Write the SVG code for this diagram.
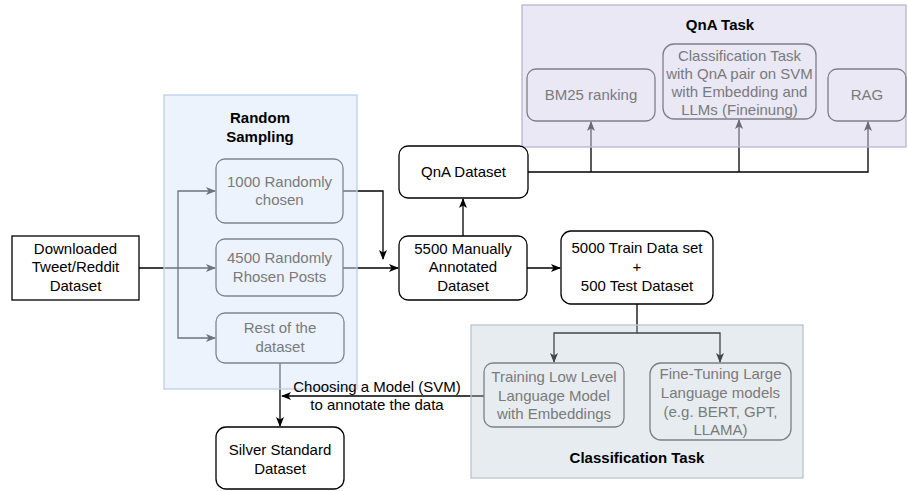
<svg xmlns="http://www.w3.org/2000/svg" width="908" height="491" viewBox="0 0 908 491">
<defs>
<marker id="arr" viewBox="0 0 10 8" markerWidth="10" markerHeight="8" refX="9" refY="4" orient="auto" markerUnits="userSpaceOnUse">
<path d="M0,0 L10,4 L0,8 L2.5,4 Z" fill="#000"/>
</marker>
<style>
.t{font-family:"Liberation Sans",Arial,sans-serif;font-size:15px;text-anchor:middle;fill:#000}
.b{font-weight:bold}
.g{fill:#7a7a7a}
.box{fill:#fff;stroke:#000;stroke-width:1.3}
.ibox{fill:none;stroke:#7f858e;stroke-width:1.3}
.c{fill:none;stroke:#000;stroke-width:1.3}
</style>
</defs>
<rect width="908" height="491" fill="#fff"/>
<g id="connectors">
<path class="c" d="M139,268 H215" marker-end="url(#arr)"/>
<path class="c" d="M178,268 V191 H215" marker-end="url(#arr)"/>
<path class="c" d="M178,268 V338 H215" marker-end="url(#arr)"/>
<path class="c" d="M343,191 H383 V259" marker-end="url(#arr)"/>
<path class="c" d="M343,268 H398" marker-end="url(#arr)"/>
<path class="c" d="M463,236 V199" marker-end="url(#arr)"/>
<path class="c" d="M527,268 H560" marker-end="url(#arr)"/>
<path class="c" d="M528,172 H868 V122" marker-end="url(#arr)"/>
<path class="c" d="M591,172 V122" marker-end="url(#arr)"/>
<path class="c" d="M739,172 V120" marker-end="url(#arr)"/>
<path class="c" d="M637,304 V333 H554 V362" marker-end="url(#arr)"/>
<path class="c" d="M637,333 H720 V362" marker-end="url(#arr)"/>
<path class="c" d="M484,396 H282" marker-end="url(#arr)"/>
<path class="c" d="M280,363 V426" marker-end="url(#arr)"/>
</g>
<g id="random-sampling">
<rect x="164" y="95" width="193" height="294" fill="#dae8fc" fill-opacity="0.5" stroke="#bcd0ea" stroke-width="1.3"/>
<text class="t b" x="260" y="123">Random</text>
<text class="t b" x="260" y="142">Sampling</text>
</g>
<g id="qna-task">
<rect x="522" y="5" width="384" height="142" fill="#d4d2ea" fill-opacity="0.5" stroke="#b9b5cd" stroke-width="1.3"/>
<text class="t b" x="720" y="30">QnA Task</text>
</g>
<g id="classification-task">
<rect x="471" y="325" width="332" height="153" fill="#bac8d3" fill-opacity="0.35" stroke="#bac4cb" stroke-width="1.3"/>
<text class="t b" x="637" y="463">Classification Task</text>
</g>
<g id="connector-label">
<text class="t" x="377" y="392">Choosing a Model (SVM)</text>
<text class="t" x="377" y="410">to annotate the data</text>
</g>
<g id="downloaded">
<rect class="box" x="12" y="236" width="127" height="64"/>
<text class="t" x="75.5" y="254">Downloaded</text>
<text class="t" x="75.5" y="272">Tweet/Reddit</text>
<text class="t" x="75.5" y="291">Dataset</text>
</g>
<g id="random-1000">
<rect class="ibox" x="216" y="159" width="127" height="64" rx="9"/>
<text class="t g" x="279.5" y="187">1000 Randomly</text>
<text class="t g" x="279.5" y="205">chosen</text>
</g>
<g id="random-4500">
<rect class="ibox" x="216" y="239" width="127" height="57" rx="9"/>
<text class="t g" x="279.5" y="263">4500 Randomly</text>
<text class="t g" x="279.5" y="282">Rhosen Posts</text>
</g>
<g id="rest">
<rect class="ibox" x="216" y="313" width="128" height="50" rx="9"/>
<text class="t g" x="280" y="333">Rest of the</text>
<text class="t g" x="280" y="352">dataset</text>
</g>
<g id="manual">
<rect class="box" x="399" y="236" width="128" height="64" rx="9"/>
<text class="t" x="463" y="254">5500 Manually</text>
<text class="t" x="463" y="272">Annotated</text>
<text class="t" x="463" y="291">Dataset</text>
</g>
<g id="qna-dataset">
<rect class="box" x="399" y="146" width="129" height="52" rx="9"/>
<text class="t" x="463.5" y="177">QnA Dataset</text>
</g>
<g id="train-test">
<rect class="box" x="561" y="231" width="152" height="73" rx="10"/>
<text class="t" x="637" y="253">5000 Train Data set</text>
<text class="t" x="637" y="272">+</text>
<text class="t" x="637" y="291">500 Test Dataset</text>
</g>
<g id="bm25">
<rect class="ibox" x="527" y="69" width="128" height="52" rx="9" style="stroke:#7f7e88"/>
<text class="t g" x="591" y="100">BM25 ranking</text>
</g>
<g id="qna-classification">
<rect class="ibox" x="663" y="44" width="153" height="75" rx="11" style="stroke:#7f7e88"/>
<text class="t g" x="739.5" y="61">Classification Task</text>
<text class="t g" x="739.5" y="79">with QnA pair on SVM</text>
<text class="t g" x="739.5" y="97">with Embedding and</text>
<text class="t g" x="739.5" y="115">LLMs (Fineinung)</text>
</g>
<g id="rag">
<rect class="ibox" x="828" y="69" width="78" height="52" rx="9" style="stroke:#7f7e88"/>
<text class="t g" x="867" y="100">RAG</text>
</g>
<g id="training-low">
<rect class="ibox" x="484" y="363" width="140" height="64" rx="9" style="stroke:#7b8085"/>
<text class="t g" x="554" y="382">Training Low Level</text>
<text class="t g" x="554" y="401">Language Model</text>
<text class="t g" x="554" y="419">with Embeddings</text>
</g>
<g id="fine-tuning">
<rect class="ibox" x="650" y="363" width="141" height="77" rx="11" style="stroke:#7b8085"/>
<text class="t g" x="720.5" y="379">Fine-Tuning Large</text>
<text class="t g" x="720.5" y="398">Language models</text>
<text class="t g" x="720.5" y="417">(e.g. BERT, GPT,</text>
<text class="t g" x="720.5" y="435">LLAMA)</text>
</g>
<g id="silver">
<rect class="box" x="216" y="427" width="128" height="62" rx="10"/>
<text class="t" x="280" y="455">Silver Standard</text>
<text class="t" x="280" y="474">Dataset</text>
</g>
</svg>
